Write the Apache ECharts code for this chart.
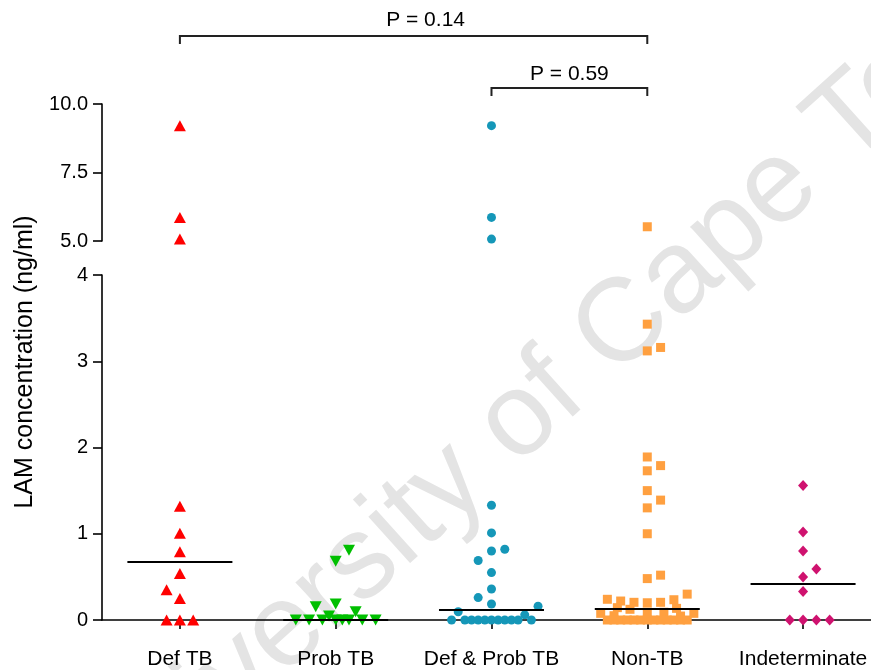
<!DOCTYPE html>
<html><head><meta charset="utf-8">
<script src="https://cdn.jsdelivr.net/npm/echarts@6/dist/echarts.min.js"></script>
<style>html,body{margin:0;padding:0;background:#fff}#c{width:871px;height:670px}</style>
</head><body><div id="c"></div>
<script>
// ---- data ----
const categories = ['Def TB', 'Prob TB', 'Def & Prob TB', 'Non-TB', 'Indeterminate'];

const defTB       = [9.21, 5.86, 5.07, 1.32, 1.005, 0.79, 0.54, 0.35, 0.25, 0, 0, 0];
const defTBJitter = [0, 0, 0, 0, 0, 0, 0, -1, 0, -1, 0, 1];

const probTB       = [0.81, 0.68, 0.185, 0.154, 0.096, 0.046, 0, 0, 0, 0, 0, 0, 0, 0];
const probTBJitter = [1, 0, 0, -1.5, 1.5, -0.5, -3, -2, -1, 0, 0.5, 1, 2, 3];

const defProbTB       = [9.21, 5.86, 5.07, 1.33, 1.01, 0.80, 0.82, 0.69, 0.55, 0.36, 0.26, 0.185, 0.16, 0.096, 0.06,
                         0, 0, 0, 0, 0, 0, 0, 0, 0, 0, 0];
const defProbTBJitter = [0, 0, 0, 0, 0, 0, 1, -1, 0, 0, -1, 0, 3.5, -2.5, 2.5,
                         -3, -2, -1.5, -1, -0.5, 0, 0.5, 1, 1.5, 2, 3];

const nonTB       = [5.52, 3.43, 3.16, 3.12, 1.89, 1.79, 1.73, 1.50, 1.39, 1.30, 1.00, 0.52, 0.48,
                     0.24, 0.22, 0.205, 0.20, 0.205, 0.235, 0.30, 0.143, 0.124, 0.135,
                     0.077, 0.05, 0.093, 0.09, 0.077, 0.046,
                     0, 0, 0, 0, 0, 0, 0, 0, 0, 0, 0, 0, 0];
const nonTBJitter = [0, 0, 1, 0, 0, 1, 0, 0, 1, 0, 0, 1, 0,
                     -3, -2, -1, 0, 1, 2, 3, -2.25, -1.3, 2.2,
                     -3.5, -2.5, 0, 1.25, 3.5, 2.5,
                     -3, -2.5, -2, -1.5, -1, -0.5, 0, 0.5, 1, 1.5, 2, 2.5, 3];

const indet       = [1.56, 1.02, 0.80, 0.59, 0.50, 0.33, 0, 0, 0, 0];
const indetJitter = [0, 0, 0, 1, 0, 0, -1, 0, 1, 2];

const medians = [0.67, 0, 0.124, 0.127, 0.42];

const upperTicks = [5, 10, 2.5];   // min, max, interval
const lowerTicks = [0, 4, 1];

const pValues = ['P = 0.14', 'P = 0.59'];
const comparisons = [[0, 3], [2, 3]];

// ---- chart ----
const FONT = 'Liberation Sans, Arial, Helvetica, sans-serif';
const JIT = 0.0854;
const X_MIN = -0.5, X_MAX = 4.436;
const catIdx = categories.map((c, i) => i);
const groups = [
  {v: defTB, j: defTBJitter, symbol: 'triangle', rotate: 0, size: [12, 11], color: '#ff0000'},
  {v: probTB, j: probTBJitter, symbol: 'triangle', rotate: 180, size: [12, 11], color: '#00bf00'},
  {v: defProbTB, j: defProbTBJitter, symbol: 'circle', rotate: 0, size: 9, color: '#1597b8'},
  {v: nonTB, j: nonTBJitter, symbol: 'rect', rotate: 0, size: 9, color: '#ffa040'},
  {v: indet, j: indetJitter, symbol: 'diamond', rotate: 0, size: [10, 11], color: '#cf126f'}
];

const series = [];
groups.forEach((g, gi) => {
  const up = [], lo = [];
  g.v.forEach((val, k) => {
    const pt = [gi + g.j[k] * JIT, val];
    (val > 4.5 ? up : lo).push(pt);
  });
  const base = {type: 'scatter', symbol: g.symbol, symbolRotate: g.rotate, symbolSize: g.size,
    itemStyle: {color: g.color, opacity: 1}, silent: true, z: 3};
  series.push(Object.assign({}, base, {xAxisIndex: 0, yAxisIndex: 1, data: lo,
    markLine: {symbol: 'none', silent: true, animation: false, label: {show: false},
      lineStyle: {color: '#000', width: 2, type: 'solid'},
      data: [[{coord: [gi - 0.337, medians[gi]]}, {coord: [gi + 0.337, medians[gi]]}]]}}));
  series.push(Object.assign({}, base, {xAxisIndex: 1, yAxisIndex: 0, data: up}));
});

const axisCommon = {
  axisLine: {show: true, onZero: false, lineStyle: {color: '#000', width: 1.6}},
  axisTick: {show: true, length: 9, lineStyle: {color: '#000', width: 1.6}},
  splitLine: {show: false},
  axisLabel: {color: '#000', fontSize: 20, fontFamily: FONT, margin: 14}
};

const chart = echarts.init(document.getElementById('c'), null, {renderer: 'canvas'});
chart.setOption({
  animation: false,
  backgroundColor: '#fff',
  grid: [
    {left: 102, top: 104, right: 0, height: 137},
    {left: 102, top: 275, right: 0, height: 345}
  ],
  xAxis: [
    {gridIndex: 1, type: 'value', min: X_MIN, max: X_MAX,
      splitLine: {show: false},
      axisLine: {show: true, onZero: false, lineStyle: {color: '#000', width: 1.6}},
      axisTick: {show: true, customValues: catIdx, length: 9, lineStyle: {color: '#000', width: 1.6}},
      axisLabel: {show: true, customValues: catIdx, formatter: v => categories[Math.round(v)],
        color: '#000', fontSize: 21, fontFamily: FONT, margin: 29}},
    {gridIndex: 0, type: 'value', min: X_MIN, max: X_MAX, show: false}
  ],
  yAxis: [
    Object.assign({gridIndex: 0, type: 'value', min: upperTicks[0], max: upperTicks[1], interval: upperTicks[2]}, axisCommon,
      {axisLabel: Object.assign({}, axisCommon.axisLabel, {formatter: v => v.toFixed(1)})}),
    Object.assign({gridIndex: 1, type: 'value', min: lowerTicks[0], max: lowerTicks[1], interval: lowerTicks[2]}, axisCommon)
  ],
  series: series
});

const px = i => chart.convertToPixel({gridIndex: 1}, [i, 0])[0];
const graphics = [
  {type: 'text', z: -10, x: 558, y: 386, rotation: 42 * Math.PI / 180,
    style: {text: 'University of Cape Town', font: 'normal 118px ' + FONT, fill: '#e4e4e4',
      textAlign: 'center', textVerticalAlign: 'middle'}},
  {type: 'text', x: 25, y: 362, rotation: Math.PI / 2,
    style: {text: 'LAM concentration (ng/ml)', font: 'normal 25px ' + FONT, fill: '#000',
      textAlign: 'center', textVerticalAlign: 'middle'}}
];
const bracketY = [36, 88];
const textY = [20, 74];
const textDx = [12, 0];
comparisons.forEach((c, k) => {
  const x1 = px(c[0]), x2 = px(c[1]), y = bracketY[k];
  graphics.push({type: 'polyline', shape: {points: [[x1, y + 8], [x1, y], [x2, y], [x2, y + 8]]},
    style: {stroke: '#222', lineWidth: 2, fill: null}});
  graphics.push({type: 'text', x: (x1 + x2) / 2 + textDx[k], y: textY[k],
    style: {text: pValues[k], font: 'normal 21px ' + FONT, fill: '#000', textAlign: 'center', textVerticalAlign: 'middle'}});
});
chart.setOption({graphic: graphics});
</script></body></html>
